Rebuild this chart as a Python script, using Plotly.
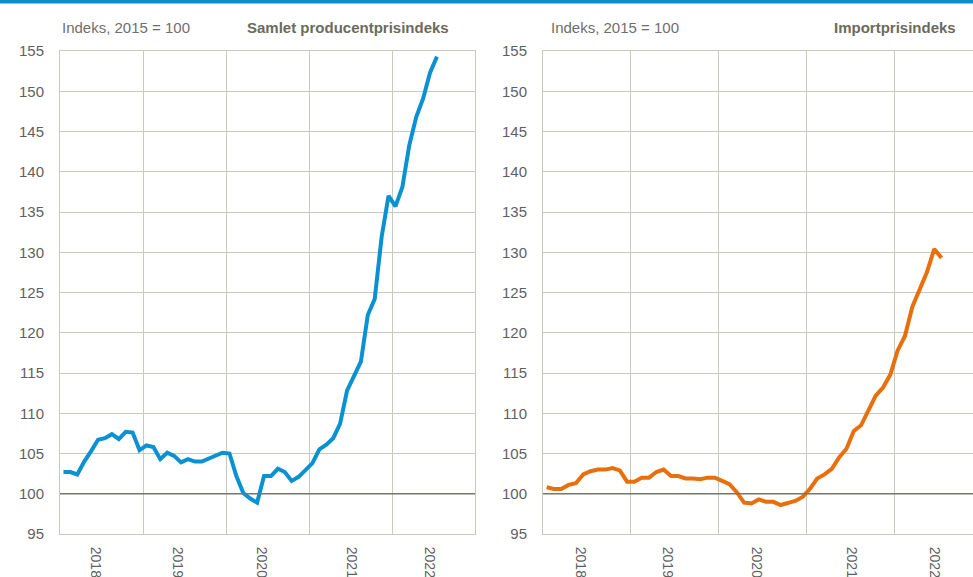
import plotly.graph_objects as go
from plotly.subplots import make_subplots
import numpy as np

# Monthly data, Jan 2018 - Jul 2022 (Indeks, 2015 = 100)
year_labels = ["2018", "2019", "2020", "2021", "2022"]

producer_index = [
    102.7, 102.7, 102.4, 104.0, 105.3, 106.7, 106.9, 107.4, 106.8, 107.7, 107.6, 105.4,
    106.0, 105.8, 104.3, 105.1, 104.7, 103.9, 104.3, 104.0, 104.0, 104.4, 104.8, 105.1,
    105.0, 102.2, 100.1, 99.4, 98.9, 102.2, 102.2, 103.1, 102.7, 101.6, 102.1, 103.0,
    103.8, 105.5, 106.1, 106.9, 108.7, 112.8, 114.6, 116.4, 122.2, 124.2, 131.9, 137.0,
    135.7, 138.1, 143.3, 146.8, 149.1, 152.3, 154.3,
]

import_index = [
    100.8, 100.6, 100.6, 101.1, 101.3, 102.4, 102.8, 103.0, 103.0, 103.2, 102.9, 101.5,
    101.5, 102.0, 102.0, 102.7, 103.0, 102.2, 102.2, 101.9, 101.9, 101.8, 102.0, 102.0,
    101.6, 101.2, 100.2, 98.9, 98.8, 99.3, 99.0, 99.0, 98.6, 98.9, 99.1, 99.6,
    100.6, 101.9, 102.4, 103.1, 104.5, 105.6, 107.8, 108.5, 110.3, 112.2, 113.2, 114.8,
    117.8, 119.6, 123.2, 125.3, 127.5, 130.4, 129.3,
]

# month index, centred in each month slot
x_months = np.arange(len(producer_index)) + 0.5

W, H = 973, 577
FONT = "Liberation Sans, Arial, sans-serif"
GRID = "#c9c9bd"
TXT = "#5f5f5f"
TITLE = "#6b6b5c"

fig = make_subplots(rows=1, cols=2)

fig.add_trace(go.Scatter(x=x_months, y=producer_index, mode="lines",
                         line=dict(color="#0a91d2", width=4), showlegend=False,
                         hoverinfo="y"), row=1, col=1)
fig.add_trace(go.Scatter(x=x_months, y=import_index, mode="lines",
                         line=dict(color="#e8700c", width=4), showlegend=False,
                         hoverinfo="y"), row=1, col=2)

left_dom = [60 / W, 475 / W]
right_dom = [543 / W, 1.0]
right_end = 60 * (W - 543) / (981.75 - 543)

tickpos = [5.2, 17.0, 29.2, 42.2, 53.5]

xcommon = dict(
    tickmode="array", tickvals=tickpos, ticktext=year_labels, tickangle=90,
    showgrid=False, ticks="", zeroline=False, automargin=False,
    tickfont=dict(family=FONT, size=14, color=TXT),
    showline=True, linecolor=GRID, linewidth=1, mirror=True,
    minor=dict(tickmode="linear", tick0=0, dtick=12, showgrid=True,
               gridcolor=GRID, gridwidth=1, ticks=""),
    ticklabelstandoff=9,
    fixedrange=True,
)
ycommon = dict(
    range=[95, 155], dtick=5, tick0=95, showgrid=True, gridcolor=GRID, gridwidth=1,
    ticks="", zeroline=False, showline=True, linecolor=GRID, linewidth=1, mirror=True,
    tickfont=dict(family=FONT, size=15, color=TXT), ticklabelstandoff=12,
    automargin=False, fixedrange=True,
)

fig.update_layout(
    xaxis=dict(domain=left_dom, range=[0, 60], **xcommon),
    xaxis2=dict(domain=right_dom, range=[0, right_end], **xcommon),
    yaxis=dict(domain=[0, 1], **ycommon),
    yaxis2=dict(domain=[0, 1], **ycommon),
    width=W, height=H,
    margin=dict(l=0, r=0, t=51, b=43, autoexpand=False),
    paper_bgcolor="white", plot_bgcolor="white",
    font=dict(family=FONT, color=TXT),
)

# darker line at 100
for xr, yr in [("x domain", "y"), ("x2 domain", "y2")]:
    fig.add_shape(type="line", xref=xr, yref=yr, x0=0, x1=1, y0=100, y1=100,
                  line=dict(color="#76766a", width=1.5))

# top blue rule
PH = 577 - 51 - 43
fig.add_shape(type="rect", xref="paper", yref="paper", x0=-0.01, x1=1.01,
              y0=(PH + 51 - 3.5) / PH, y1=(PH + 51 + 2) / PH,
              fillcolor="#0a8ccf", line=dict(width=0), layer="above")

ty = (PH + 51 - 28) / PH
annos = [
    dict(text="Indeks, 2015 = 100", x=60 / W, xanchor="left", font=dict(size=15, color="#6e6e6e", family=FONT)),
    dict(text="<b>Samlet producentprisindeks</b>", x=451 / W, xanchor="right", font=dict(size=15, color=TITLE, family=FONT)),
    dict(text="Indeks, 2015 = 100", x=549 / W, xanchor="left", font=dict(size=15, color="#6e6e6e", family=FONT)),
    dict(text="<b>Importprisindeks</b>", x=958 / W, xanchor="right", font=dict(size=15, color=TITLE, family=FONT)),
]
for a in annos:
    fig.add_annotation(xref="paper", yref="paper", y=ty, yanchor="middle",
                       showarrow=False, **a)

fig.write_html("out.html", config={"displayModeBar": False},
               post_script="document.body.style.margin='0';document.body.style.overflow='hidden';")
